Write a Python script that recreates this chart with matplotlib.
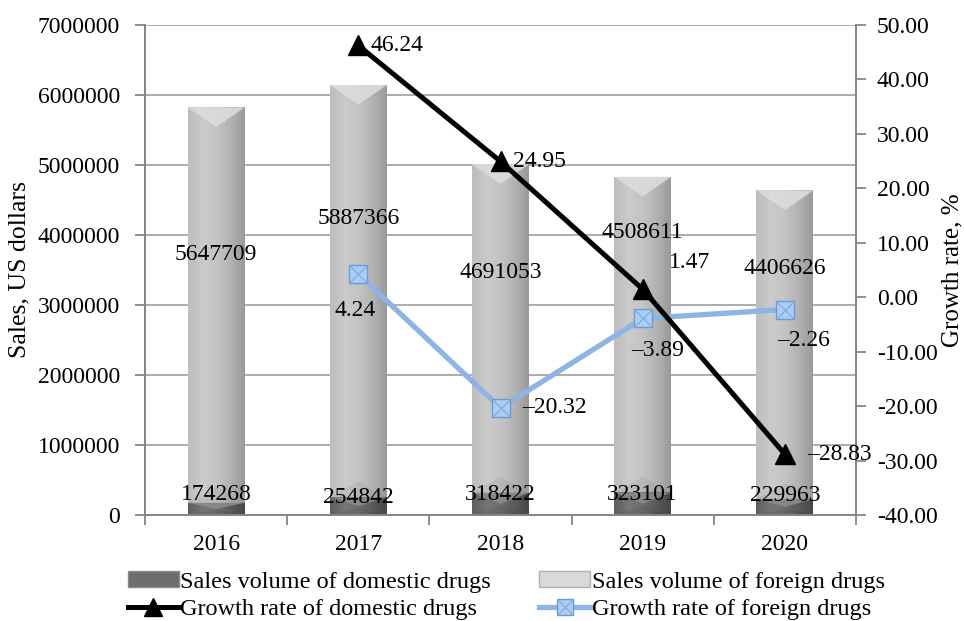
import numpy as np
import matplotlib
matplotlib.use("Agg")
import matplotlib.pyplot as plt
from matplotlib.colors import LinearSegmentedColormap
from matplotlib.patches import Polygon, Patch
from matplotlib.lines import Line2D
import matplotlib.transforms as mtransforms

plt.rcParams['font.family'] = ['Liberation Serif', 'DejaVu Serif']

years = ['2016', '2017', '2018', '2019', '2020']
domestic_sales = [174268, 254842, 318422, 323101, 229963]
foreign_sales = [5647709, 5887366, 4691053, 4508611, 4406626]
domestic_growth = [np.nan, 46.24, 24.95, 1.47, -28.83]
foreign_growth = [np.nan, 4.24, -20.32, -3.89, -2.26]

# where the value labels sit (axes fraction for bars, pixel offsets for lines)
foreign_lab_y = [0.531, 0.606, 0.494, 0.576, 0.504]
domestic_lab_y = [0.042, 0.036, 0.042, 0.042, 0.040]
dom_growth_off = [None, (12, 0, 'left'), (12, 0, 'left'), (26, 27, 'left'), (22, 0, 'left')]
for_growth_off = [None, (-3, -36, 'center'), (22, 0, 'left'), (15, -32, 'center'), (19, -31, 'center')]

fs = 17
grid_c = '#a6a6a6'
spine_c = '#868686'

fig = plt.figure(figsize=(9.64, 6.21), dpi=100)
ax = fig.add_axes([145 / 964, 1 - 515 / 621, 711 / 964, 490 / 621])
ax2 = ax.twinx()

x = np.arange(len(years))
width = 0.4

light_cmap = LinearSegmentedColormap.from_list('lg', ['#bdbdbd', '#cbcbcb', '#c4c4c4', '#b3b3b3', '#9a9a9a'])
dark_cmap = LinearSegmentedColormap.from_list('dg', ['#5e5e5e', '#757575', '#6e6e6e', '#5a5a5a', '#474747'])
grad = np.linspace(0, 1, 64).reshape(1, -1)

ax.set_axisbelow(True)
ax.yaxis.grid(True, color=grid_c, lw=1.3)

b_dom = ax.bar(x, domestic_sales, width, color='none', edgecolor='none', zorder=2)
b_for = ax.bar(x, foreign_sales, width, bottom=domestic_sales, color='none', edgecolor='none', zorder=2)

bevel = 0.04 * 7000000
for bars, cmap, vcol in [(b_dom, dark_cmap, '#8a8a8a'), (b_for, light_cmap, '#dcdcdc')]:
    for r in bars:
        bx, by, bw, bh = r.get_x(), r.get_y(), r.get_width(), r.get_height()
        im = ax.imshow(grad, extent=[bx, bx + bw, by, by + bh], aspect='auto',
                       cmap=cmap, origin='lower', zorder=2, interpolation='bilinear')
        im.set_clip_path(r)
        d = min(bevel, bh * 0.5)
        ax.add_patch(Polygon([[bx, by + bh], [bx + bw, by + bh], [bx + bw / 2, by + bh - d]],
                             closed=True, facecolor=vcol, edgecolor='none', zorder=2.1, alpha=0.9))
        ax.add_patch(Polygon([[bx, by], [bx + bw, by], [bx + bw / 2, by + d * 0.8]],
                             closed=True, facecolor='#000000', edgecolor='none', zorder=2.1, alpha=0.06))

ax.set_xlim(-0.5, len(years) - 0.5)
ax.set_ylim(0, 7000000)
ax.set_yticks(np.arange(0, 7000001, 1000000))
ax.set_yticklabels([f'{v:d}' for v in range(0, 7000001, 1000000)])

# bar labels
trans = mtransforms.blended_transform_factory(ax.transData, ax.transAxes)
for i in range(len(years)):
    ax.text(x[i], foreign_lab_y[i], f'{foreign_sales[i]}', transform=trans,
            ha='center', va='center', fontsize=fs, zorder=5)
    ax.text(x[i], domestic_lab_y[i], f'{domestic_sales[i]}', transform=trans,
            ha='center', va='center', fontsize=fs, zorder=5)

# growth lines
ax2.plot(x, foreign_growth, color='#8db4e2', lw=3.8, zorder=3)
ax2.plot(x, foreign_growth, ls='none', marker='s', ms=13, mfc='#a9cdf4', mec='#6c9bd4', mew=1.0, zorder=4)
ax2.plot(x, foreign_growth, ls='none', marker='x', ms=12, mec='#7fa8dc', mew=0.8, zorder=4)
ax2.plot(x, domestic_growth, color='black', lw=3.6, marker='^', ms=15, zorder=5)

def fmt(v):
    s = f'{abs(v):.2f}'
    return ('\u2013' + s) if v < 0 else s

for i in range(len(years)):
    if dom_growth_off[i] is not None:
        dx, dy, ha = dom_growth_off[i]
        ax2.annotate(fmt(domestic_growth[i]), (x[i], domestic_growth[i]), xytext=(dx, dy),
                     textcoords='offset pixels', ha=ha, va='center', fontsize=fs, zorder=6)
    if for_growth_off[i] is not None:
        dx, dy, ha = for_growth_off[i]
        ax2.annotate(fmt(foreign_growth[i]), (x[i], foreign_growth[i]), xytext=(dx, dy),
                     textcoords='offset pixels', ha=ha, va='center', fontsize=fs, zorder=6)

ax2.set_ylim(-40, 50)
ax2.set_yticks(np.arange(-40, 51, 10))
ax2.set_yticklabels([f'{v:.2f}' for v in np.arange(-40, 51, 10)])

# x axis: ticks at category boundaries, labels at centers
ax.set_xticks(np.arange(-0.5, len(years), 1.0))
ax.set_xticklabels([])
ax.set_xticks(x, minor=True)
ax.set_xticklabels(years, minor=True, fontsize=fs)
ax.tick_params(axis='x', which='major', length=7, width=1.3, color=spine_c)
ax.tick_params(axis='x', which='minor', length=0, pad=14)
ax.tick_params(axis='y', length=7, width=1.3, color=spine_c, labelsize=fs, pad=11)
ax2.tick_params(axis='y', length=7, width=1.3, color=spine_c, labelsize=fs, pad=8)

for a in (ax, ax2):
    a.spines['top'].set_visible(False)
    for s in ('left', 'right', 'bottom'):
        a.spines[s].set_color(spine_c)
        a.spines[s].set_linewidth(1.3)

ax.set_ylabel('Sales, US dollars', fontsize=18.5, labelpad=5)
ax2.set_ylabel('Growth rate, %', fontsize=18, labelpad=3)

handles = [
    Patch(facecolor='#6e6e6e', edgecolor='#8a8a8a'),
    Line2D([], [], color='black', lw=3.6, marker='^', ms=13),
    Patch(facecolor='#d9d9d9', edgecolor='#b0b0b0'),
    (Line2D([], [], color='#8db4e2', lw=3.8, marker='s', ms=12, mfc='#a9cdf4', mec='#6c9bd4'),
     Line2D([], [], ls='none', marker='x', ms=11, mec='#7fa8dc', mew=0.8)),
]
labels = ['Sales volume of domestic drugs', 'Growth rate of domestic drugs',
          'Sales volume of foreign drugs', 'Growth rate of foreign drugs']
fig.legend(handles, labels, loc='center', bbox_to_anchor=(0.525, 0.041), ncol=2,
           frameon=False, fontsize=17.5, handlelength=2.1, handleheight=0.6,
           handletextpad=0.05, columnspacing=2.0, labelspacing=0.25, borderpad=0)

fig.savefig('out.png', dpi=100)
